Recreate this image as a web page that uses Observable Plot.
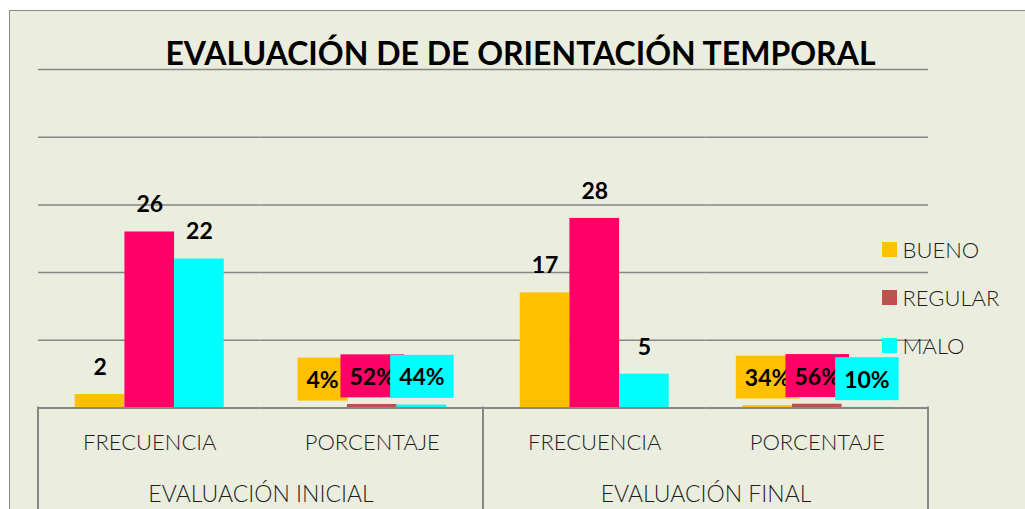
<!DOCTYPE html>
<html>
<head>
<meta charset="utf-8">
<script src="https://cdn.jsdelivr.net/npm/d3@7"></script>
<script src="https://cdn.jsdelivr.net/npm/@observablehq/plot@0.6"></script>
<style>
  html, body { margin: 0; padding: 0; background: #ffffff; width: 1025px; height: 509px; overflow: hidden; }
  #frame { position: absolute; left: 9px; top: 10px; width: 1040px; height: 530px; background: #EBEEDE; border: 1.5px solid #8a8a8a; box-sizing: border-box; }
  #chart { position: absolute; left: 0; top: 0; }
  #legend { position: absolute; left: 882px; top: 0; font-family: Lato, "Open Sans", sans-serif; font-weight: 300; font-size: 22px; color: #1e1e1e; }
  .item { position: absolute; left: 0; display: flex; align-items: center; height: 15px; white-space: nowrap; }
  .sw { width: 14.5px; height: 14.5px; margin-right: 6px; flex: none; }
</style>
</head>
<body>
<div id="frame"></div>
<div id="chart"></div>
<div id="legend"></div>
<script>
// ---- data ----
const title = "EVALUACIÓN DE DE ORIENTACIÓN TEMPORAL";
const groups = ["EVALUACIÓN INICIAL", "EVALUACIÓN FINAL"];
const categories = ["FRECUENCIA", "PORCENTAJE"];
const series = ["BUENO", "REGULAR", "MALO"];
const inicialFrecuencia = [2, 26, 22];
const inicialPorcentaje = [0.04, 0.52, 0.44];
const finalFrecuencia = [17, 28, 5];
const finalPorcentaje = [0.34, 0.56, 0.10];
const yTicks = [10, 20, 30, 40, 50];

// ---- styles ----
const seriesColors = { BUENO: "#FFC000", REGULAR: "#C0504D", MALO: "#00FFFF" };
const regularHighlight = "#FF0066";
const gridColor = "#878787";
const font = "Lato, 'Open Sans', sans-serif";

// ---- table ----
const valuesByGroup = {
  "EVALUACIÓN INICIAL": { FRECUENCIA: inicialFrecuencia, PORCENTAJE: inicialPorcentaje },
  "EVALUACIÓN FINAL": { FRECUENCIA: finalFrecuencia, PORCENTAJE: finalPorcentaje }
};
const rows = [];
const facetRows = [];
for (const g of groups) {
  for (const c of categories) {
    const key = g + " · " + c;
    facetRows.push({ group: g, category: c, key });
    series.forEach((s, i) => rows.push({ group: g, category: c, key, series: s, value: valuesByGroup[g][c][i] }));
  }
}
const keys = facetRows.map(d => d.key);
const freqRows = rows.filter(d => d.category === "FRECUENCIA");
const pctRows = rows.filter(d => d.category === "PORCENTAJE");
const groupRows = facetRows.filter(d => d.category === "FRECUENCIA");

const barFill = d => (d.category === "FRECUENCIA" && d.series === "REGULAR") ? regularHighlight : seriesColors[d.series];
const boxFill = d => d.series === "REGULAR" ? regularHighlight : seriesColors[d.series];

const W = 1025, H = 509;
const chart = Plot.plot({
  width: W,
  height: H,
  marginLeft: 38,
  marginRight: 97,
  marginTop: 69,
  marginBottom: 101.5,
  style: { background: "transparent", fontFamily: font, overflow: "visible" },
  fx: { domain: keys, padding: 0, round: false, axis: null },
  x: { domain: series, paddingInner: 0, paddingOuter: 0.74, round: false, axis: null },
  y: { domain: [0, 50], axis: null },
  color: { type: "identity" },
  marks: [
    Plot.ruleY(yTicks, { stroke: gridColor, strokeWidth: 1.5 }),
    Plot.barY(rows, { fx: "key", x: "series", y: "value", fill: barFill }),
    Plot.ruleY([0], { stroke: gridColor, strokeWidth: 2 }),
    Plot.text(freqRows, {
      fx: "key", x: "series", y: "value", text: d => String(d.value),
      dy: -27, lineAnchor: "middle", fontWeight: "bold", fontSize: 23, fill: "#000"
    }),
    Plot.text(pctRows, {
      fx: "key", x: "series", y: "value", text: d => d3.format(".0%")(d.value),
      dy: -27, lineAnchor: "middle", fontWeight: "bold", fontSize: 23, fill: "#000"
    }),
    Plot.text(facetRows, {
      fx: "key", y: () => 0, text: "category",
      dy: 34.5, lineAnchor: "middle", fontSize: 22, fontWeight: 300, fill: "#1e1e1e"
    }),
    Plot.text(groupRows, {
      fx: "key", y: () => 0, text: "group", frameAnchor: "right", textAnchor: "middle",
      dy: 86.5, lineAnchor: "middle", fontSize: 23, fontWeight: 300, fill: "#1e1e1e"
    })
  ]
});
document.getElementById("chart").append(chart);

const svg = d3.select(chart);

// coloured boxes behind percentage labels
svg.selectAll("text").filter(function () { return /%$/.test(this.textContent); }).each(function (idx, n) {
  const i = d3.select(this).datum();
  const d = (typeof i === "number" && pctRows[i]) ? pctRows[i] : pctRows[n];
  const bb = this.getBBox();
  const cy = bb.y + bb.height / 2;
  const rect = document.createElementNS("http://www.w3.org/2000/svg", "rect");
  rect.setAttribute("x", bb.x - 9);
  rect.setAttribute("width", bb.width + 18);
  rect.setAttribute("y", cy - 21.5);
  rect.setAttribute("height", 43);
  rect.setAttribute("fill", boxFill(d));
  const tr = this.getAttribute("transform");
  if (tr) rect.setAttribute("transform", tr);
  this.parentNode.insertBefore(rect, this);
});

// group separators of the two-level category axis
const fxScale = chart.scale("fx");
const yScale = chart.scale("y");
const [r0, r1] = fxScale.range;
const step = (r1 - r0) / keys.length;
const baseY = Math.max(...yScale.range);
const bounds = [];
keys.forEach((k, i) => { if (i === 0 || facetRows[i].group !== facetRows[i - 1].group) bounds.push(r0 + i * step); });
bounds.push(r1);
svg.append("g").selectAll("line").data(bounds).join("line")
  .attr("x1", d => d).attr("x2", d => d)
  .attr("y1", baseY - 1).attr("y2", H)
  .attr("stroke", gridColor).attr("stroke-width", 2);

// title
svg.append("text")
  .attr("x", 520.5).attr("y", 65)
  .attr("text-anchor", "middle")
  .attr("font-family", font).attr("font-weight", "bold").attr("font-size", 32)
  .attr("fill", "#000")
  .text(title);

// legend
const legend = d3.select("#legend");
series.forEach((s, i) => {
  const it = legend.append("div").attr("class", "item").style("top", (242 + i * 48) + "px");
  it.append("div").attr("class", "sw").style("background", seriesColors[s]);
  it.append("span").text(s);
});
</script>
</body>
</html>
